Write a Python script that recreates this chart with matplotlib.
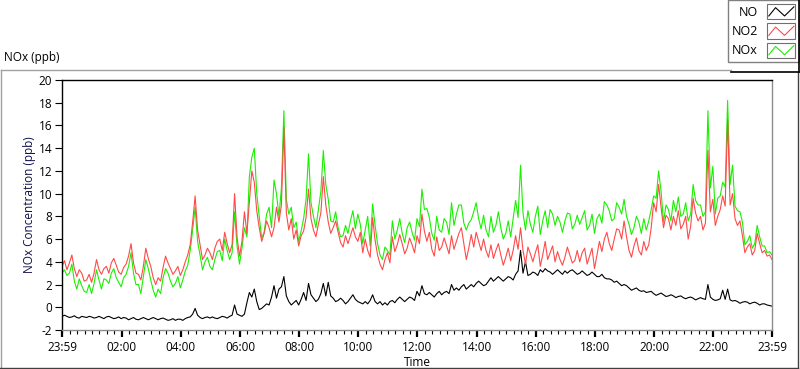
import numpy as np
import matplotlib
matplotlib.use("Agg")
import matplotlib.pyplot as plt
from matplotlib.lines import Line2D
from matplotlib.patches import Rectangle
from matplotlib.legend_handler import HandlerBase

plt.rcParams['font.family'] = ['Open Sans', 'DejaVu Sans']

# ---------------- data ----------------
# readings every 10 minutes starting at 23:59, plus the reading 5 minutes
# after each of them (read from the noise band of the picture)
step_hours = 1.0 / 12.0

no2_10min = [3.6, 3.3, 4.6, 2.7, 3.0, 2.4, 2.2, 4.2, 2.9, 3.6, 3.9, 3.7, 2.9, 3.8, 5.6,
             3.0, 2.4, 5.2, 3.6, 2.0, 2.3, 4.5, 3.4, 3.2, 2.8, 4.0, 5.5, 9.8, 5.5, 4.6,
             4.8, 5.2, 6.0, 6.6, 4.8, 10.0, 4.5, 8.4, 9.3, 11.0, 7.0, 6.5, 7.0, 7.0,
             7.5, 15.8, 6.8, 6.0, 5.4, 6.7, 10.4, 6.8, 7.3, 11.5, 7.5, 7.0, 6.6, 5.3,
             5.6, 7.0, 5.8, 4.8, 5.0, 7.9, 4.6, 3.3, 4.8, 6.2, 5.5, 5.6, 5.2, 5.5, 6.3,
             8.2, 5.8, 5.1, 6.2, 5.3, 5.4, 6.3, 5.8, 7.0, 4.2, 6.4, 6.6, 5.0, 5.0,
             5.5, 5.0, 4.6, 4.4, 4.1, 6.3, 7.0, 3.8, 4.7, 4.8, 3.6, 5.8, 4.8, 4.0,
             4.2, 4.4, 4.6, 4.1, 4.0, 5.2, 4.5, 3.4, 5.8, 6.0, 5.6, 6.0, 6.8, 7.6,
             5.0, 5.4, 5.0, 5.8, 5.5, 9.2, 10.8, 7.0, 7.8, 8.0, 8.5, 7.3, 6.0, 9.6,
             7.6, 6.8, 13.8, 9.5, 8.0, 9.8, 16.5, 10.0, 7.2, 6.3, 5.3, 4.6, 6.5, 4.8,
             4.5, 4.2]
no2_between = [4.1, 3.9, 3.4, 3.3, 2.3, 2.9, 3.0, 3.3, 3.4, 3.0, 4.3, 3.1, 3.5, 4.5,
               3.9, 2.9, 3.6, 4.3, 2.6, 2.6, 3.5, 3.9, 2.9, 3.6, 3.3, 4.6, 7.5, 6.8,
               4.2, 5.2,
               4.2, 5.8, 5.0, 5.6, 5.5, 6.2, 5.8, 6.5, 12.0, 8.5, 5.8, 7.6, 6.2, 8.8,
               9.0, 8.3, 7.8, 6.8, 6.3, 7.9, 7.8, 6.2, 8.3, 9.0, 6.5, 7.6, 5.7, 6.3,
               6.3, 6.2, 6.6, 6.0, 4.4, 5.9, 3.8, 4.2, 3.9, 4.9, 6.4, 4.7, 6.1, 4.8,
               5.6, 6.7, 6.6, 4.5, 5.0, 6.1, 4.7, 5.1, 6.5, 5.6, 5.2, 5.3, 5.8, 6.0,
               4.4,
               4.3, 5.6, 3.7, 5.2, 5.0, 5.1, 5.0, 5.3, 4.0, 5.5, 4.6, 4.2, 5.4, 4.9,
               3.7, 5.3, 3.9, 5.0, 4.8, 3.8, 5.2, 4.6, 4.9, 6.6, 5.0, 6.9, 6.0, 6.2,
               4.4, 6.1, 4.6, 5.0, 7.0, 8.4, 8.8, 8.1, 6.8, 7.2, 6.9, 8.0, 7.1, 8.3,
               8.0, 7.4, 8.4, 7.2, 8.6, 8.9, 9.0, 7.8, 7.6, 4.8, 5.6, 5.0, 5.6, 5.0,
               4.6]

nox_10min = [3.0, 2.8, 3.8, 1.6, 1.9, 1.3, 1.2, 3.3, 1.6, 2.4, 3.0, 2.6, 1.8, 2.9, 4.8,
             2.0, 1.2, 4.2, 2.4, 0.9, 1.2, 3.4, 2.3, 2.1, 1.7, 3.2, 5.0, 8.8, 4.6, 4.0,
             3.6, 4.2, 5.0, 6.0, 4.2, 8.4, 3.8, 7.0, 11.5, 14.0, 8.0, 6.6, 8.8, 11.2,
             8.0, 17.3, 8.2, 7.0, 5.8, 7.8, 13.5, 8.0, 8.6, 13.8, 9.5, 7.5, 7.0, 6.3,
             6.5, 8.5, 8.2, 5.6, 8.0, 9.1, 5.6, 4.2, 5.0, 7.6, 6.8, 6.5, 7.0, 6.6, 7.8,
             10.4, 8.7, 6.5, 8.0, 6.6, 7.5, 9.2, 8.2, 9.0, 6.8, 7.7, 9.2, 6.9, 6.8,
             8.0, 7.2, 7.0, 6.5, 6.2, 9.4, 12.5, 6.8, 7.3, 8.0, 6.4, 8.5, 8.6, 7.2,
             7.5, 7.6, 8.2, 7.3, 7.3, 8.5, 7.2, 6.5, 8.2, 9.3, 8.5, 7.8, 8.8, 9.5,
             7.3, 7.0, 7.5, 7.8, 7.6, 9.8, 12.0, 7.5, 8.6, 9.4, 9.7, 8.2, 7.6, 10.8,
             9.0, 8.0, 17.3, 12.4, 9.6, 11.0, 18.2, 12.5, 8.5, 7.5, 5.8, 5.2, 7.2, 5.4,
             4.8, 4.6]
nox_between = [3.3, 3.0, 2.3, 2.5, 1.4, 2.0, 2.1, 2.4, 2.5, 2.1, 3.4, 2.2, 2.6, 3.6,
               3.0, 2.0, 2.7, 3.4, 1.5, 1.6, 2.6, 3.0, 1.8, 2.7, 2.4, 3.7, 6.8, 5.8,
               3.3, 4.4,
               3.3, 4.9, 4.1, 5.0, 4.8, 5.4, 5.2, 6.2, 13.2, 10.0, 6.1, 8.2, 7.0, 10.0,
               10.5, 9.5, 8.8, 7.5, 6.7, 9.5, 9.2, 7.0, 10.2, 10.8, 7.6, 8.4, 6.2, 7.2,
               7.6, 6.9, 7.3, 6.8, 5.4, 7.2, 4.6, 5.3, 4.6, 6.0, 7.8, 5.7, 7.5, 5.9,
               7.1, 8.6, 7.9, 5.9, 6.8, 7.8, 6.4, 7.2, 9.0, 7.4, 7.4, 8.4, 7.8, 8.1,
               6.2,
               6.6, 8.4, 6.0, 7.6, 7.8, 7.9, 8.3, 8.5, 6.6, 8.9, 7.6, 7.0, 8.2, 8.0,
               6.6, 8.3, 6.9, 8.1, 7.9, 6.8, 8.2, 7.8, 7.4, 9.0, 7.6, 9.2, 8.2, 8.0,
               6.4, 8.0, 6.5, 6.8, 8.6, 9.6, 10.2, 9.0, 7.6, 8.4, 8.0, 9.2, 8.2, 9.4,
               9.0, 8.4, 10.5, 8.2, 9.8, 10.6, 10.8, 8.9, 8.4, 5.5, 6.3, 5.6, 6.2, 5.4,
               4.9]

no_10min = [-0.8, -0.8, -0.85, -0.9, -0.8, -0.9, -0.85, -0.9, -0.9, -0.85, -0.9, -0.95,
            -1.0, -0.95, -1.0, -1.05, -1.0, -1.0, -1.0, -1.0, -1.0, -1.05, -1.1, -1.15,
            -1.05, -1.0, -0.85, -0.1, -0.9, -0.9,
            -0.95, -0.95, -0.9, -0.85, -0.8, 0.2, -0.7, -0.6, 1.3, 1.6, -0.2, 0.1, 0.2,
            1.9, 1.6, 2.7, 0.5, 0.4, 0.2, 1.3, 2.1, 0.8, 0.7, 2.1, 2.2, 0.8, 0.6, 0.6,
            0.5, 1.1, 0.5, 0.3, 0.3, 1.1, 0.3, 0.2, 0.2, 0.6, 0.7, 0.7, 0.7, 0.8, 1.4,
            1.9, 1.1, 1.1, 1.2, 1.1, 1.4, 2.0, 1.7, 1.8, 1.6, 2.0, 2.1, 2.1, 2.0,
            2.6, 2.5, 2.5, 2.5, 2.6, 2.9, 5.0, 4.0, 2.9, 3.0, 3.3, 3.4, 3.1, 3.1, 3.1,
            3.2, 3.2, 3.1, 3.0, 3.0, 2.9, 2.9, 2.7, 2.6, 2.5, 2.2, 2.1, 2.0,
            1.7, 1.6, 1.5, 1.45, 1.35, 1.2, 1.15, 1.1, 1.0, 1.0, 0.95, 0.85, 0.85, 0.8,
            0.75, 0.75, 2.0, 0.7, 0.65, 1.5, 1.6, 0.55, 0.5, 0.45, 0.45, 0.4, 0.35,
            0.3, 0.2, 0.1]
no_between = [-0.7, -0.9, -0.75, -0.95, -0.85, -0.8, -0.95, -0.8, -1.0, -0.8, -1.0,
              -0.85, -0.9, -1.1, -0.9, -1.1, -0.9, -1.1, -0.9, -1.1, -0.95, -1.15,
              -1.0, -1.05, -1.15, -0.9, -0.6, -0.7, -1.0, -0.85,
              -0.85, -1.0, -0.8, -0.95, -0.7, -0.6, -0.8, 0.4, 0.9, 0.5, -0.1, 0.3,
              0.9, 0.8, 1.8, 1.0, 0.2, 0.6, 0.7, 0.6, 1.1, 0.5, 1.2, 1.0, 1.0, 0.5,
              0.8, 0.3,
              0.8, 0.7, 0.4, 0.5, 0.6, 0.5, 0.5, 0.4, 0.5, 0.4, 0.9, 0.5, 0.9, 0.6,
              1.0, 1.2, 1.3, 0.9, 1.4, 1.3, 1.2, 1.5, 1.5, 2.0, 1.8, 1.8, 2.3, 1.9,
              2.3,
              2.3, 2.7, 2.3, 2.7, 2.4, 3.2, 3.0, 2.8, 3.1, 2.8, 3.1, 3.2, 2.9, 3.3,
              2.9, 3.0, 3.3, 2.9, 3.2, 2.8, 3.1, 2.7, 2.9, 2.5, 2.4, 2.3, 1.9, 1.9,
              1.5, 1.7, 1.4, 1.3, 1.4, 1.05, 1.25, 0.95, 1.1, 0.85, 1.0, 0.75, 0.9,
              0.65, 0.85, 0.7, 0.9, 0.6, 0.75, 0.7, 0.65, 0.6, 0.35, 0.5, 0.3, 0.45,
              0.2, 0.3, 0.15]

x_tick_labels = ['23:59', '02:00', '04:00', '06:00', '08:00', '10:00', '12:00',
                 '14:00', '16:00', '18:00', '20:00', '22:00', '23:59']
y_ticks = [-2, 0, 2, 4, 6, 8, 10, 12, 14, 16, 18, 20]
series_names = ['NO', 'NO2', 'NOx']
series_colors = ['#000000', '#ff4a4a', '#19f000']


def merge(on_grid, between):
    out = np.empty(len(on_grid) + len(between))
    out[0::2] = on_grid
    out[1::2] = between
    return out


no = merge(no_10min, no_between)
no2 = merge(no2_10min, no2_between)
nox = merge(nox_10min, nox_between)
hours = np.arange(len(no2)) * step_hours

# ---------------- figure ----------------
W, H = 800, 369
fig = plt.figure(figsize=(W / 100, H / 100), dpi=100)
fig.patch.set_facecolor('white')


def fx(px):
    return px / W


def fy(py):
    return 1 - py / H


L, R, T, B = 62, 772, 80, 330
ax = fig.add_axes([fx(L), fy(B), (R - L) / W, (B - T) / H])
ax.set_zorder(2)
l_no, = ax.plot(hours, no, color=series_colors[0], lw=0.8)
l_nox, = ax.plot(hours, nox, color=series_colors[2], lw=0.8)
l_no2, = ax.plot(hours, no2, color=series_colors[1], lw=0.8)
ax.set_xlim(0, 24)
ax.set_ylim(-2, 20)

# time ticks (first/last are 23:59)
start_min = 23 * 60 + 59
tick_pos = []
for i, lab in enumerate(x_tick_labels):
    hh, mm = map(int, lab.split(':'))
    m = (hh * 60 + mm - start_min) % 1440
    if i == len(x_tick_labels) - 1:
        m = 1440
    tick_pos.append(m / 60.0)
ax.set_xticks(tick_pos)
ax.set_xticklabels(x_tick_labels, fontsize=8.5)
minor = np.arange(tick_pos[1] - 2, 24.0, 0.25)
minor = minor[(minor > 0.01) & (minor < 23.99)]
ax.set_xticks(minor, minor=True)
ax.set_yticks(y_ticks)
ax.set_yticklabels([str(v) for v in y_ticks], fontsize=8.5)
ax.tick_params(axis='x', which='major', direction='out', length=5, width=1.6,
               pad=3, colors='black')
ax.tick_params(axis='x', which='minor', direction='out', length=3, width=0.8,
               colors='black')
ax.tick_params(axis='y', which='major', direction='out', length=5, width=0.8,
               pad=2, colors='black')
for s in ['left', 'top']:
    ax.spines[s].set_color('black')
    ax.spines[s].set_linewidth(1.0)
for s in ['right', 'bottom']:
    ax.spines[s].set_color('#8c8c8c')
    ax.spines[s].set_linewidth(1.0)
ax.set_xlabel('Time', fontsize=8.5, labelpad=1)
ax.xaxis.set_label_coords((417 - L) / (R - L), (B - 362) / (B - T), transform=ax.transAxes)
ax.xaxis.label.set_verticalalignment('center')
ax.set_ylabel('NOx Concentration (ppb)', fontsize=8.5, color='#10104a')
ax.yaxis.set_label_coords((30 - L) / (R - L), 0.5)
ax.yaxis.label.set_verticalalignment('center')

# chart title
fig.text(fx(4), fy(58), 'NOx (ppb)', fontsize=8.5, ha='left', va='center')


# outer 3D frame
def fline(x0, y0, x1, y1, c, lw=1.0, z=10):
    fig.add_artist(Line2D([fx(x0), fx(x1)], [fy(y0), fy(y1)], color=c, lw=lw,
                          zorder=z, transform=fig.transFigure))


fline(0.5, 69.5, 731, 69.5, '#a0a0a0')
fline(0.5, 69.5, 0.5, 367.5, '#a0a0a0')
fline(0, 367.5, 798, 367.5, '#404040')
fline(797.5, 72, 797.5, 368, '#404040')


# legend with LabVIEW-like zigzag swatches
class ZigzagHandler(HandlerBase):
    def create_artists(self, legend, orig_handle, xdescent, ydescent,
                       width, height, fontsize, trans):
        x0, y0 = -xdescent, -ydescent
        box = Rectangle((x0, y0), width, height, facecolor='white',
                        edgecolor='#707070', lw=0.8, transform=trans)
        xs = [x0 + 0.06 * width, x0 + 0.3 * width, x0 + 0.62 * width,
              x0 + 0.95 * width]
        ys = [y0 + 0.22 * height, y0 + 0.75 * height, y0 + 0.22 * height,
              y0 + 0.8 * height]
        zz = Line2D(xs, ys, color=orig_handle.get_color(), lw=0.8,
                    transform=trans)
        return [box, zz]


leg = fig.legend([l_no, l_no2, l_nox], series_names, loc='upper right',
                 bbox_to_anchor=(fx(799), fy(0)), markerfirst=False,
                 handler_map={Line2D: ZigzagHandler()}, fontsize=9,
                 handlelength=2.25, handleheight=1.55, labelspacing=0.3,
                 handletextpad=0.75, borderpad=0.3, borderaxespad=0,
                 fancybox=False, framealpha=1, edgecolor='#808080')
leg.get_frame().set_linewidth(1.0)
leg.set_zorder(20)
fline(798.5, 0, 798.5, 72, '#000000', lw=1.2, z=30)
fline(731, 71.5, 799, 71.5, '#000000', lw=1.2, z=30)

fig.savefig('out.png', dpi=100, facecolor='white')
